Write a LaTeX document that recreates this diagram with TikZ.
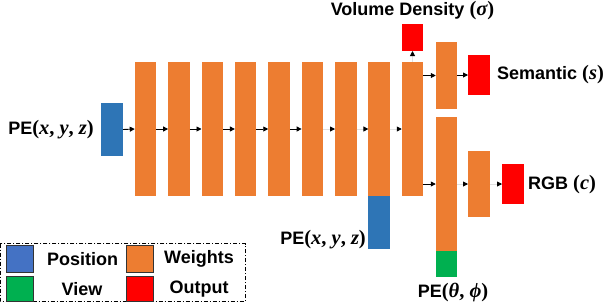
\documentclass[tikz,border=0pt]{standalone}
\usepackage{fontspec}
\setmainfont{Liberation Sans}
\newfontfamily\mserif{Liberation Serif}
\newcommand{\mv}[1]{{\itshape #1}}
\newcommand{\mpar}[1]{{\fontsize{20.5bp}{20bp}\selectfont\mserif #1}}
\usetikzlibrary{arrows.meta}
\definecolor{pblue}{HTML}{2E75B6}
\definecolor{lblue}{HTML}{4472C4}
\definecolor{porange}{HTML}{ED7D31}
\definecolor{pgreen}{HTML}{00B050}
\definecolor{pred}{HTML}{FF0000}
\begin{document}
\begin{tikzpicture}[x=1bp,y=-1bp,
  blk/.style={rectangle,inner sep=0,outer sep=0,minimum width=21.5bp},
  bar/.style={blk,fill=porange,minimum height=134bp},
  lbl/.style={inner sep=0,font=\fontsize{18bp}{20bp}\selectfont\bfseries},
  arr/.style={-{Triangle[length=5bp,width=5bp]},line width=0.9bp,black},
  garr/.style={line width=0.9bp,draw=black!12,-{Triangle[length=5bp,width=5bp,color=black,fill=black]}},
  legsq/.style={rectangle,inner sep=0,outer sep=0,draw=black!80,line width=0.5bp,minimum width=27bp,minimum height=27bp}
]
\useasboundingbox (0,0) rectangle (608,306);
% input
\node[blk,fill=pblue,minimum height=53bp,minimum width=22bp] (in) at (112,129.5) {};
\node[lbl,anchor=east] (inl) at (94,130) {PE\mpar{(\mv{x}, \mv{y}, \mv{z})}};
% bars
\foreach \i in {1,...,9}{
  \node[bar] (b\i) at ({145.5+(\i-1)*33.375},129) {};
}
\node[blk,fill=pblue,minimum height=53bp] (in2) at (379.1,222.5) {};
\node[lbl,anchor=east] (in2l) at (366,240) {PE\mpar{(\mv{x}, \mv{y}, \mv{z})}};
% arrows between bars
\draw[arr] (in.east) -- (b1.west);
\foreach \a/\b in {1/2,2/3,3/4,4/5,5/6}{\draw[arr] (b\a.east) -- (b\b.west);}
\foreach \a/\b in {6/7,7/8,8/9}{\draw[garr] (b\a.east) -- (b\b.west);}
% density
\node[blk,fill=pred,minimum height=27bp] (vol) at (412.5,37.5) {};
\node[lbl] (voll) at (412.5,11) {Volume Density \mpar{(\mv{σ})}};
\draw[garr] (b9.north) -- (vol.south);
% semantic
\node[blk,fill=porange,minimum height=67bp] (sem) at (446.5,75.5) {};
\node[blk,fill=pred,minimum height=40bp,minimum width=22bp] (semo) at (479,75) {};
\node[lbl,anchor=west] (seml) at (497,75) {Semantic \mpar{(\mv{s})}};
\draw[arr] (b9.east |- sem.west) -- (sem.west);
\draw[arr] (sem.east |- semo.west) -- (semo.west);
% rgb branch
\node[blk,fill=porange,minimum height=134bp] (tall) at (446.5,184) {};
\node[blk,fill=pgreen,minimum height=26bp] (view) at (446.5,264) {};
\node[lbl] (viewl) at (453,293) {PE\mpar{(\mv{θ}, \mv{ϕ})}};
\node[blk,fill=porange,minimum height=66bp,minimum width=22bp] (sm) at (479,184) {};
\node[blk,fill=pred,minimum height=40bp,minimum width=22bp] (rgb) at (513,184) {};
\node[lbl,anchor=west] (rgbl) at (528,185) {RGB \mpar{(\mv{c})}};
\draw[arr] (b9.east |- tall.west) -- (tall.west);
\draw[garr] (tall.east) -- (sm.west);
\draw[garr] (sm.east) -- (rgb.west);
% legend
\draw[line width=0.9bp,dash pattern=on 4bp off 2bp on 1bp off 2bp] (0.5,243.5) rectangle (245,301.5);
\node[legsq,fill=lblue] (lpos) at (19.5,259) {};
\node[legsq,fill=pgreen,minimum height=25bp] (lview) at (19.5,288.5) {};
\node[legsq,fill=porange] (lw) at (139.5,259) {};
\node[legsq,fill=pred,minimum height=25bp] (lout) at (139.5,288.5) {};
\node[lbl] (lposl) at (82.5,259) {Position};
\node[lbl] (lviewl) at (82,289) {View};
\node[lbl] (lwl) at (199,259) {Weights};
\node[lbl] (loutl) at (199,289) {Output};
\end{tikzpicture}
\end{document}
